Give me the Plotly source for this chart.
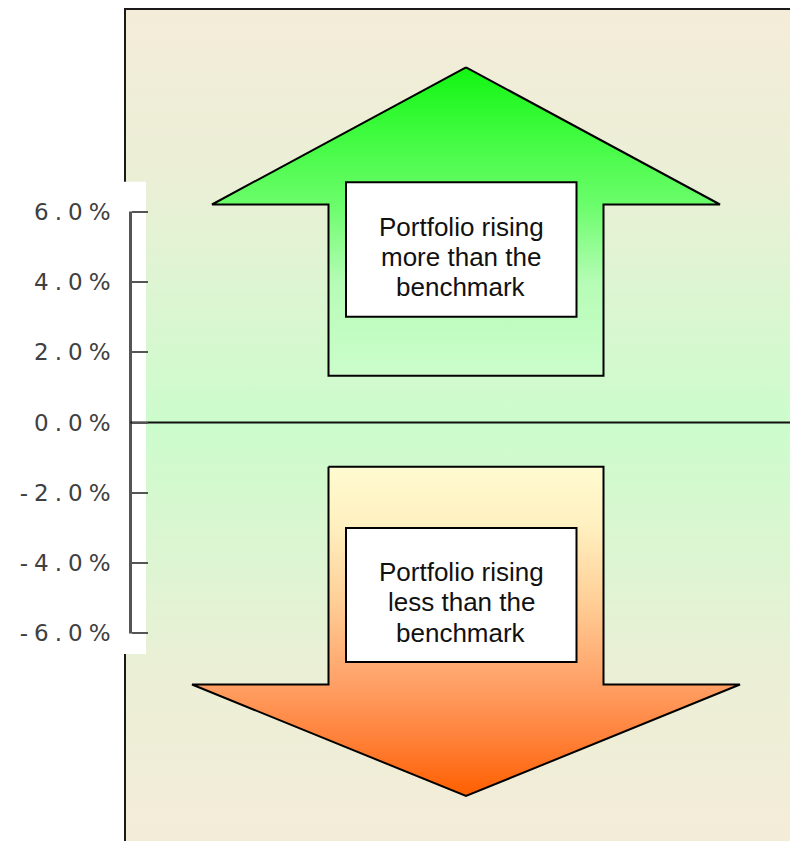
import plotly.graph_objects as go

# Axis ticks: relative performance versus the benchmark (percent)
tick_values = [-6, -4, -2, 0, 2, 4, 6]
tick_labels = ["-6.0%", "-4.0%", "-2.0%", "0.0%", "2.0%", "4.0%", "6.0%"]

# Captions inside the two arrows
up_caption = ["Portfolio rising", "more than the", "benchmark"]
down_caption = ["Portfolio rising", "less than the", "benchmark"]

W, H = 790, 841
Y_MIN, Y_MAX = -11.906, 12.02   # percent range of the full canvas height
AXIS_X = 130.5                  # horizontal position of the percent axis
PANEL_LEFT, PANEL_RIGHT, PANEL_TOP = 125, 790, 11.764

fig = go.Figure()

# Panel background: beige at the edges, pale green around the zero line
fig.add_trace(go.Scatter(
    x=[PANEL_LEFT, PANEL_RIGHT, PANEL_RIGHT, PANEL_LEFT, PANEL_LEFT],
    y=[Y_MIN, Y_MIN, PANEL_TOP, PANEL_TOP, Y_MIN],
    mode="none", fill="toself",
    fillgradient=dict(type="vertical",
                      colorscale=[[0, "#f4ecd9"], [0.2, "#ebefd6"], [0.5, "#ccfccc"],
                                  [0.8, "#ebefd6"], [1, "#f4ecd9"]]),
    hoverinfo="skip", showlegend=False))

# Panel frame: left and top edges
fig.add_trace(go.Scatter(
    x=[PANEL_LEFT, PANEL_LEFT, PANEL_RIGHT],
    y=[Y_MIN, PANEL_TOP, PANEL_TOP],
    mode="lines", line=dict(color="#1a1a1a", width=2),
    hoverinfo="skip", showlegend=False))

# White strip behind the percent scale
fig.add_trace(go.Scatter(
    x=[0, 146, 146, 0, 0],
    y=[-6.586, -6.586, 6.851, 6.851, -6.586],
    mode="none", fill="toself", fillcolor="white",
    hoverinfo="skip", showlegend=False))

# Vertical scale line from the lowest to the highest tick
fig.add_trace(go.Scatter(
    x=[AXIS_X, AXIS_X], y=[min(tick_values), max(tick_values)],
    mode="lines", line=dict(color="#555555", width=3),
    hoverinfo="skip", showlegend=False))

# Zero line across the panel
fig.add_trace(go.Scatter(
    x=[AXIS_X, PANEL_RIGHT], y=[0, 0],
    mode="lines", line=dict(color="#111111", width=2),
    hoverinfo="skip", showlegend=False))

# Up arrow (green)
up_x = [466, 720, 603.5, 603.5, 328.5, 328.5, 212, 466]
up_y = [10.105, 6.202, 6.202, 1.331, 1.331, 6.202, 6.202, 10.105]
fig.add_trace(go.Scatter(
    x=up_x, y=up_y, mode="lines", fill="toself",
    line=dict(color="black", width=2),
    fillgradient=dict(type="vertical",
                      colorscale=[[0, "#ccfdcc"], [0.3, "#b6fcb6"], [0.55, "#6cfd6c"],
                                  [0.8, "#3cfb3c"], [1, "#12f512"]]),
    hoverinfo="skip", showlegend=False))

# Down arrow (yellow to orange)
dn_x = [328.5, 603.5, 603.5, 740, 466, 192, 328.5, 328.5]
dn_y = [-1.257, -1.257, -7.454, -7.454, -10.626, -7.454, -7.454, -1.257]
fig.add_trace(go.Scatter(
    x=dn_x, y=dn_y, mode="lines", fill="toself",
    line=dict(color="black", width=2),
    fillgradient=dict(type="vertical",
                      colorscale=[[0, "#ff5f00"], [0.17, "#ff8038"], [0.34, "#ffa066"],
                                  [0.6, "#ffd098"], [0.82, "#fff0c0"], [1, "#fffbd0"]]),
    hoverinfo="skip", showlegend=False))

# Caption boxes
for y0, y1 in [(3.010, 6.834), (-6.814, -3.001)]:
    fig.add_shape(type="rect", x0=346, x1=576.5, y0=y0, y1=y1,
                  fillcolor="white", line=dict(color="black", width=2), layer="above")

caption_font = dict(family="Liberation Sans, Arial, sans-serif", size=26, color="#111111")
for lines, ys in [(up_caption, [5.562, 4.708, 3.855]),
                  (down_caption, [-4.253, -5.107, -5.989])]:
    for text, y in zip(lines, ys):
        fig.add_annotation(x=461, y=y, text=text, showarrow=False,
                           xanchor="center", yanchor="middle", font=caption_font)

fig.update_layout(
    width=W, height=H,
    margin=dict(l=0, r=0, t=0, b=0),
    paper_bgcolor="white", plot_bgcolor="white",
    showlegend=False,
    xaxis=dict(range=[0, W], visible=False, fixedrange=True),
    yaxis=dict(
        range=[Y_MIN, Y_MAX], anchor="free", position=AXIS_X / W,
        tickmode="array", tickvals=tick_values,
        ticktext=[f'<span style="letter-spacing:6px">{t}</span>' for t in tick_labels],
        ticks="inside", ticklen=16, tickwidth=2, tickcolor="#555555",
        ticklabelstandoff=14,
        tickfont=dict(family="DejaVu Sans, sans-serif", size=23, color="#404040"),
        showline=False, showgrid=False, zeroline=False,
        automargin=False, fixedrange=True),
)

fig.write_html("out.html")
